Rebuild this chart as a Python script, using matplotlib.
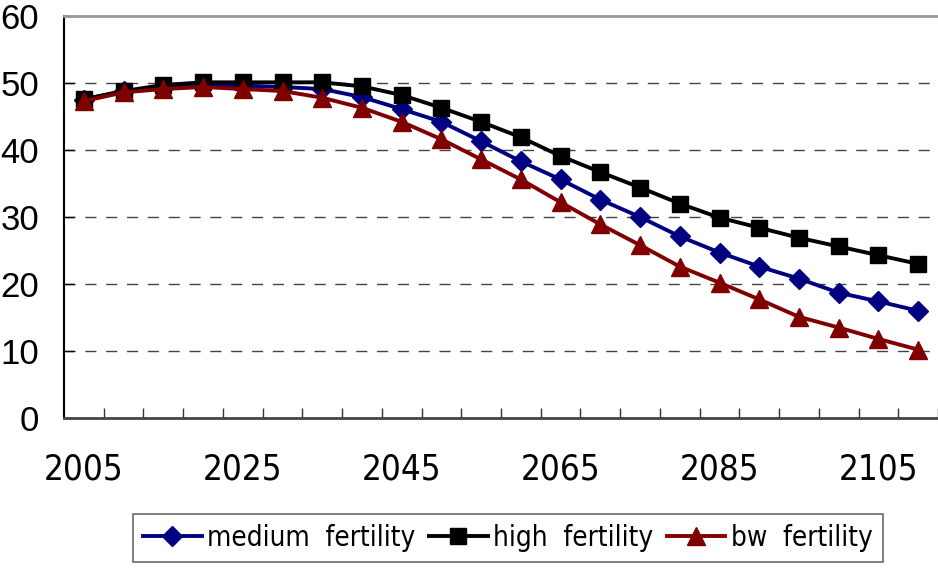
import matplotlib.pyplot as plt

# projected values, 2005-2110 every 5 years
years = list(range(2005, 2111, 5))
medium = [47.5, 48.8, 49.3, 49.6, 49.6, 49.4, 49.1, 47.9, 46.1, 44.2, 41.3, 38.3,
          35.6, 32.6, 30.0, 27.1, 24.7, 22.6, 20.8, 18.7, 17.4, 16.0]
high = [47.6, 48.8, 49.7, 50.1, 50.1, 50.1, 50.1, 49.5, 48.2, 46.3, 44.2, 41.9,
        39.1, 36.7, 34.4, 32.0, 29.9, 28.4, 26.9, 25.6, 24.3, 23.0]
low = [47.3, 48.6, 49.1, 49.4, 49.1, 48.8, 47.8, 46.3, 44.2, 41.6, 38.6, 35.6,
       32.2, 28.9, 25.8, 22.6, 20.2, 17.7, 15.1, 13.5, 11.8, 10.2]
labels = ["medium  fertility", "high  fertility", "bw  fertility"]
xlabels = [2005, 2025, 2045, 2065, 2085, 2105]

fig = plt.figure(figsize=(9.38, 5.71), dpi=100)
ax = fig.add_axes([64/938, 1-418/571, 1-64/938, (418-16)/571])

ax.plot(years, medium, color="#000080", lw=2.8, marker="D", ms=10, label=labels[0])
ax.plot(years, high, color="black", lw=2.8, marker="s", ms=11.5, label=labels[1])
ax.plot(years, low, color="#800000", lw=2.8, marker="^", ms=13, label=labels[2])

ax.set_xlim(2002.5, 2111.75)
ax.set_ylim(0, 60)
ax.set_yticks(range(0, 61, 10))
ax.set_xticks(xlabels)
ax.set_xticks([y + 2.5 for y in years], minor=True)
ax.tick_params(axis="x", which="major", length=0, pad=25)
ax.tick_params(axis="x", which="minor", direction="in", length=7, width=1, color="#333333")
ax.tick_params(axis="y", direction="in", length=7, width=1, pad=18)
for t in ax.get_xticklabels():
    t.set_family("DejaVu Sans")
    t.set_stretch("condensed")
    t.set_fontsize(25)
for t in ax.get_yticklabels():
    t.set_family("Liberation Sans")
    t.set_fontsize(25)

for v in range(10, 60, 10):
    ax.axhline(v, color="#444444", lw=1, ls=(0, (8, 7)), zorder=0)

ax.spines["right"].set_visible(False)
ax.spines["top"].set_color("#999999")
ax.spines["top"].set_linewidth(2)
ax.spines["left"].set_linewidth(1.5)
ax.spines["bottom"].set_linewidth(2)
ax.spines["bottom"].set_color("#444444")

leg = fig.legend(loc="center", bbox_to_anchor=(508/938, 1-538/571), ncol=3,
                 frameon=True, fancybox=False, edgecolor="#444444",
                 handlelength=2.1, handletextpad=0.2, columnspacing=0.5,
                 borderpad=0.35,
                 prop={"family": "DejaVu Sans", "stretch": "condensed", "size": 20})
leg.get_frame().set_linewidth(1.2)

fig.savefig("out.png", dpi=100)
